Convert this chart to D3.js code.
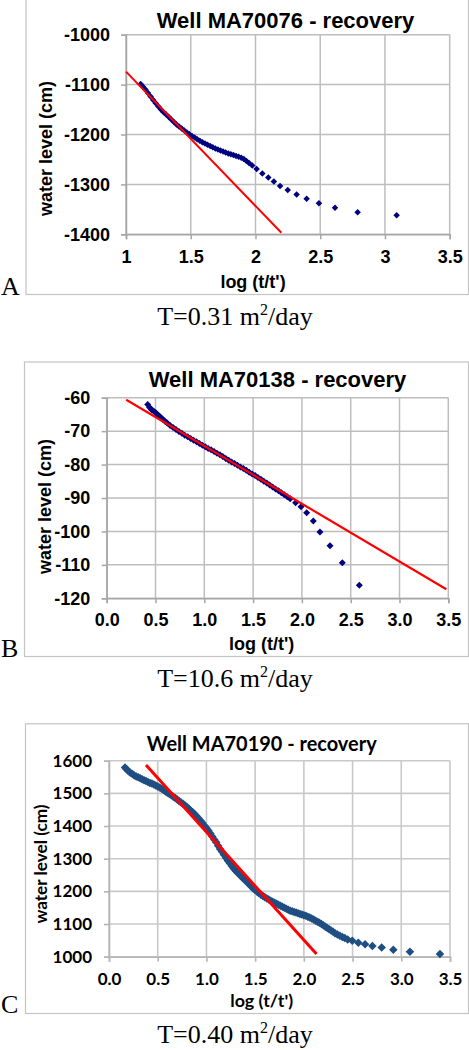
<!DOCTYPE html>
<html><head><meta charset="utf-8">
<script src="https://cdn.jsdelivr.net/npm/d3@7"></script>
<style>body{margin:0;background:#fff}svg{display:block}</style>
</head><body>
<svg id="chart" width="469" height="1050"></svg>
<script>
// ---------- Panel A : Well MA70076 ----------
const aTitle = "Well MA70076 - recovery";
const aXTicks = [1, 1.5, 2, 2.5, 3, 3.5];
const aYTicks = [-1000, -1100, -1200, -1300, -1400];
const aLogT = [1.113,1.13,1.15,1.17,1.19,1.21,1.23,1.25,1.27,1.29,
  1.31,1.33,1.35,1.37,1.39,1.41,1.43,1.45,1.47,1.49,
  1.51,1.53,1.55,1.57,1.59,1.61,1.63,1.65,1.67,1.69,
  1.71,1.73,1.75,1.77,1.79,1.81,1.83,1.85,1.87,1.89,
  1.91,1.93,1.95,1.975,2.009,2.053,2.099,2.142,2.19,2.249,
  2.318,2.395,2.49,2.614,2.789,3.09];
const aLevel = [-1099,-1104,-1110,-1117,-1124,-1131,-1137.5,-1144,-1150,-1155.5,
  -1160,-1165,-1170,-1175,-1180,-1184,-1188,-1192,-1196,-1199.5,
  -1203,-1206,-1209.5,-1212.5,-1215.5,-1218,-1220.5,-1223,-1225.5,-1228,
  -1230,-1232,-1234,-1236,-1238,-1239.5,-1241,-1243,-1244.5,-1246.5,
  -1249,-1253,-1257,-1262,-1269,-1278,-1286,-1294,-1303,-1311,
  -1320,-1329,-1338,-1347,-1356,-1362];
const aFitX = [1.0, 2.2];
const aFitY = [-1074, -1397];
const aLetter = "A";
const aT = ["T=0.31 m", "2", "/day"];

// ---------- Panel B : Well MA70138 ----------
const bTitle = "Well MA70138 - recovery";
const bXTicks = [0, 0.5, 1, 1.5, 2, 2.5, 3, 3.5];
const bYTicks = [-60, -70, -80, -90, -100, -110, -120];
const bLogT = [0.42,0.44,0.46,0.48,0.50,0.52,0.54,0.56,0.58,0.60,
  0.62,0.65,0.68,0.71,0.74,0.77,0.80,0.83,0.86,0.89,
  0.92,0.95,0.98,1.01,1.04,1.07,1.10,1.13,1.16,1.19,
  1.22,1.25,1.28,1.31,1.34,1.37,1.40,1.43,1.46,1.49,
  1.52,1.55,1.58,1.61,1.64,1.67,1.70,1.73,1.76,1.79,
  1.82,1.85,1.88,1.936,1.991,2.049,2.117,2.185,2.288,2.414,
  2.588];
const bLevel = [-62.0,-62.9,-63.6,-64.0,-64.4,-65.0,-65.5,-66.1,-66.6,-67.1,
  -67.6,-68.3,-68.9,-69.5,-70.1,-70.6,-71.2,-71.7,-72.2,-72.7,
  -73.2,-73.7,-74.2,-74.7,-75.2,-75.6,-76.1,-76.6,-77.1,-77.6,
  -78.2,-78.7,-79.2,-79.7,-80.2,-80.7,-81.2,-81.7,-82.3,-82.8,
  -83.3,-83.9,-84.4,-85.0,-85.5,-86.1,-86.7,-87.3,-87.8,-88.4,
  -89.0,-89.6,-90.2,-91.4,-92.6,-94.4,-96.9,-100.2,-104.3,-109.4,
  -116.1];
const bFitX = [0.2, 3.48];
const bFitY = [-60.6, -117.3];
const bLetter = "B";
const bT = ["T=10.6 m", "2", "/day"];

// ---------- Panel C : Well MA70190 ----------
const cTitle = "Well MA70190 - recovery";
const cXTicks = [0, 0.5, 1, 1.5, 2, 2.5, 3, 3.5];
const cYTicks = [1000, 1100, 1200, 1300, 1400, 1500, 1600];
const cLogT = [0.164,0.18,0.20,0.22,0.24,0.26,0.28,0.30,0.32,0.34,
  0.36,0.38,0.40,0.42,0.44,0.46,0.48,0.50,0.52,0.54,
  0.56,0.58,0.60,0.62,0.64,0.66,0.68,0.70,0.72,0.74,
  0.76,0.78,0.80,0.82,0.84,0.86,0.88,0.90,0.92,0.94,
  0.96,0.98,1.00,1.02,1.04,1.06,1.08,1.10,1.12,1.14,
  1.16,1.18,1.20,1.22,1.24,1.26,1.28,1.30,1.32,1.34,
  1.36,1.38,1.40,1.42,1.44,1.46,1.48,1.50,1.52,1.54,
  1.56,1.58,1.60,1.62,1.64,1.66,1.68,1.70,1.72,1.74,
  1.76,1.78,1.80,1.82,1.84,1.86,1.88,1.90,1.92,1.94,
  1.96,1.98,2.00,2.02,2.04,2.06,2.08,2.10,2.12,2.14,
  2.16,2.18,2.20,2.22,2.24,2.26,2.28,2.30,2.32,2.345,
  2.37,2.395,2.42,2.45,2.497,2.559,2.628,2.703,2.799,2.918,
  3.089,3.397];
const cLevel = [1579,1574,1568,1563,1559,1555,1552,1549,1546,1543,
  1540,1538,1535,1532,1530,1527,1524,1521,1518,1514,
  1510,1506,1502,1498,1494,1490,1486,1481,1477,1472,
  1468,1463,1458,1453,1447,1442,1436,1430,1423,1416,
  1409,1401,1394,1386,1377,1368,1359,1350,1340,1330,
  1321,1312,1303,1294,1286,1278,1270,1263,1257,1251,
  1245,1239,1233,1227,1221,1215,1209,1204,1199,1194,
  1190,1186,1182,1178,1175,1171,1168,1165,1162,1159,
  1156,1153,1150,1147,1144,1141,1139,1137,1135,1133,
  1131,1129,1127,1125,1122,1120,1117,1114,1110,1107,
  1104,1100,1096,1092,1088,1084,1080,1076,1072,1068,
  1064,1060,1057,1053,1049,1043,1038,1033,1028,1021,
  1015,1008];
const cFitX = [0.38, 2.13];
const cFitY = [1587, 1008];
const cLetter = "C";
const cT = ["T=0.40 m", "2", "/day"];

const xLabel = "log (t/t')";
const yLabel = "water level (cm)";

// ---------- drawing ----------
const svg = d3.select("#chart");
const diamond = {
  draw(ctx, size) {
    const r = Math.sqrt(size) / 2;
    ctx.moveTo(0, -r); ctx.lineTo(r, 0); ctx.lineTo(0, r); ctx.lineTo(-r, 0); ctx.closePath();
  }
};

function panel(o) {
  const g = svg.append("g");
  g.append("rect")
    .attr("x", o.frame[0] + 0.5).attr("y", o.frame[1] + 0.5)
    .attr("width", o.frame[2] - o.frame[0]).attr("height", o.frame[3] - o.frame[1])
    .attr("fill", "#fff").attr("stroke", o.frameColor).attr("stroke-width", 1.2);

  const x = d3.scaleLinear().domain(o.xDomain).range([o.left, o.right]);
  const y = d3.scaleLinear().domain(o.yDomain).range([o.bottom, o.top]);

  g.append("g").selectAll("line").data(o.xTicks).join("line")
    .attr("x1", d => x(d)).attr("x2", d => x(d))
    .attr("y1", o.top).attr("y2", o.bottom)
    .attr("stroke", o.gridColor).attr("stroke-width", o.gridW);
  g.append("g").selectAll("line").data(o.yTicks).join("line")
    .attr("x1", o.left).attr("x2", o.right)
    .attr("y1", d => y(d)).attr("y2", d => y(d))
    .attr("stroke", o.gridColor).attr("stroke-width", o.gridW);

  const ax = g.append("g").attr("transform", `translate(0,${o.bottom})`)
    .call(d3.axisBottom(x).tickValues(o.xTicks).tickFormat(o.xFmt).tickSize(5).tickPadding(o.xPad));
  const ay = g.append("g").attr("transform", `translate(${o.left},0)`)
    .call(d3.axisLeft(y).tickValues(o.yTicks).tickFormat(o.yFmt).tickSize(5).tickPadding(o.yPad));
  [ax, ay].forEach(a => {
    a.select(".domain").attr("stroke", o.axisColor).attr("stroke-width", o.gridW);
    a.selectAll(".tick line").attr("stroke", o.axisColor).attr("stroke-width", o.gridW);
    a.selectAll(".tick text").attr("fill", "#000")
      .attr("font-family", o.font).attr("font-weight", "bold").attr("font-size", o.tickSize);
  });

  const sym = d3.symbol().type(diamond).size(o.marker * o.marker);
  g.append("g").selectAll("path").data(d3.zip(o.xs, o.ys)).join("path")
    .attr("transform", d => `translate(${x(d[0])},${y(d[1])})`)
    .attr("d", sym).attr("fill", o.markerColor);

  g.append("line")
    .attr("x1", x(o.fitX[0])).attr("y1", y(o.fitY[0]))
    .attr("x2", x(o.fitX[1])).attr("y2", y(o.fitY[1]))
    .attr("stroke", "#ff0000").attr("stroke-width", o.fitW);

  const t = g.append("text").attr("x", o.titlePos[0]).attr("y", o.titlePos[1])
    .attr("text-anchor", "middle").attr("font-family", o.font).attr("font-weight", "bold")
    .attr("font-size", o.titleSize).text(o.title);
  if (o.titleLen) t.attr("textLength", o.titleLen).attr("lengthAdjust", "spacingAndGlyphs");
  const xt = g.append("text").attr("x", o.xLabPos[0]).attr("y", o.xLabPos[1])
    .attr("text-anchor", "middle").attr("font-family", o.font).attr("font-weight", "bold")
    .attr("font-size", o.labSize).text(xLabel);
  if (o.xLabLen) xt.attr("textLength", o.xLabLen).attr("lengthAdjust", "spacingAndGlyphs");
  const yt = g.append("text").attr("transform", `translate(${o.yLabPos[0]},${o.yLabPos[1]}) rotate(-90)`)
    .attr("text-anchor", "middle").attr("font-family", o.font).attr("font-weight", "bold")
    .attr("font-size", o.labSize).text(yLabel);
  if (o.yLabLen) yt.attr("textLength", o.yLabLen).attr("lengthAdjust", "spacingAndGlyphs");

  g.append("text").attr("x", o.letterPos[0]).attr("y", o.letterPos[1])
    .attr("font-family", "'Liberation Serif', 'Times New Roman', serif").attr("font-size", 26)
    .text(o.letter);
  const cap = svg.append("text").attr("x", o.capPos[0]).attr("y", o.capPos[1])
    .attr("text-anchor", "middle")
    .attr("font-family", "'Liberation Serif', 'Times New Roman', serif").attr("font-size", 26);
  cap.append("tspan").text(o.cap[0]);
  cap.append("tspan").attr("dy", -10).attr("font-size", 16).text(o.cap[1]);
  cap.append("tspan").attr("dy", 10).text(o.cap[2]);
}

const arial = "'Liberation Sans', Arial, sans-serif";
const lato = "Lato, 'Noto Sans', sans-serif";

panel({
  frame: [25.5, -3, 468, 294], frameColor: "#c4c4c4",
  left: 126, right: 449.7, top: 34.7, bottom: 234.3,
  xDomain: [1, 3.5], yDomain: [-1400, -1000],
  xTicks: aXTicks, yTicks: aYTicks, xFmt: d => String(d), yFmt: d => String(d),
  xPad: 11, yPad: 11, font: arial, tickSize: 18,
  gridColor: "#bdbdbd", axisColor: "#a6a6a6", gridW: 1.5,
  xs: aLogT, ys: aLevel, marker: 6.5, markerColor: "#000080",
  fitX: aFitX, fitY: aFitY, fitW: 2,
  title: aTitle, titlePos: [285.5, 28.3], titleSize: 22,
  xLabPos: [253, 288], yLabPos: [51.5, 148.5], labSize: 18,
  letter: aLetter, letterPos: [1, 295],
  cap: aT, capPos: [235, 325]
});

panel({
  frame: [24, 361.5, 468, 656], frameColor: "#c4c4c4",
  left: 106.7, right: 448.3, top: 397.7, bottom: 598.3,
  xDomain: [0, 3.5], yDomain: [-120, -60],
  xTicks: bXTicks, yTicks: bYTicks, xFmt: d3.format(".1f"), yFmt: d => String(d),
  xPad: 10, yPad: 11.5, font: arial, tickSize: 18,
  gridColor: "#bdbdbd", axisColor: "#a6a6a6", gridW: 1.5,
  xs: bLogT, ys: bLevel, marker: 7, markerColor: "#000080",
  fitX: bFitX, fitY: bFitY, fitW: 2.2,
  title: bTitle, titlePos: [277.5, 387.3], titleSize: 22,
  xLabPos: [261.7, 649.5], yLabPos: [51, 506.5], labSize: 18,
  letter: bLetter, letterPos: [1, 657],
  cap: bT, capPos: [235, 686.5]
});

panel({
  frame: [25, 723.3, 468, 1013], frameColor: "#c4c4c4",
  left: 109, right: 450, top: 760.7, bottom: 956.7,
  xDomain: [0, 3.5], yDomain: [1000, 1600],
  xTicks: cXTicks, yTicks: cYTicks, xFmt: d3.format(".1f"), yFmt: d => String(d),
  xPad: 11, yPad: 12, font: lato, tickSize: 17,
  gridColor: "#c9c9c9", axisColor: "#b5b5b5", gridW: 1.6,
  xs: cLogT, ys: cLevel, marker: 8.5, markerColor: "#1f4e82",
  fitX: cFitX, fitY: cFitY, fitW: 3,
  title: cTitle, titlePos: [261.7, 750.5], titleSize: 21, titleLen: 230,
  xLabPos: [261.7, 1006.5], xLabLen: 63, yLabPos: [47, 864], yLabLen: 119, labSize: 17,
  letter: cLetter, letterPos: [1, 1013],
  cap: cT, capPos: [235, 1043]
});
</script>
</body></html>
